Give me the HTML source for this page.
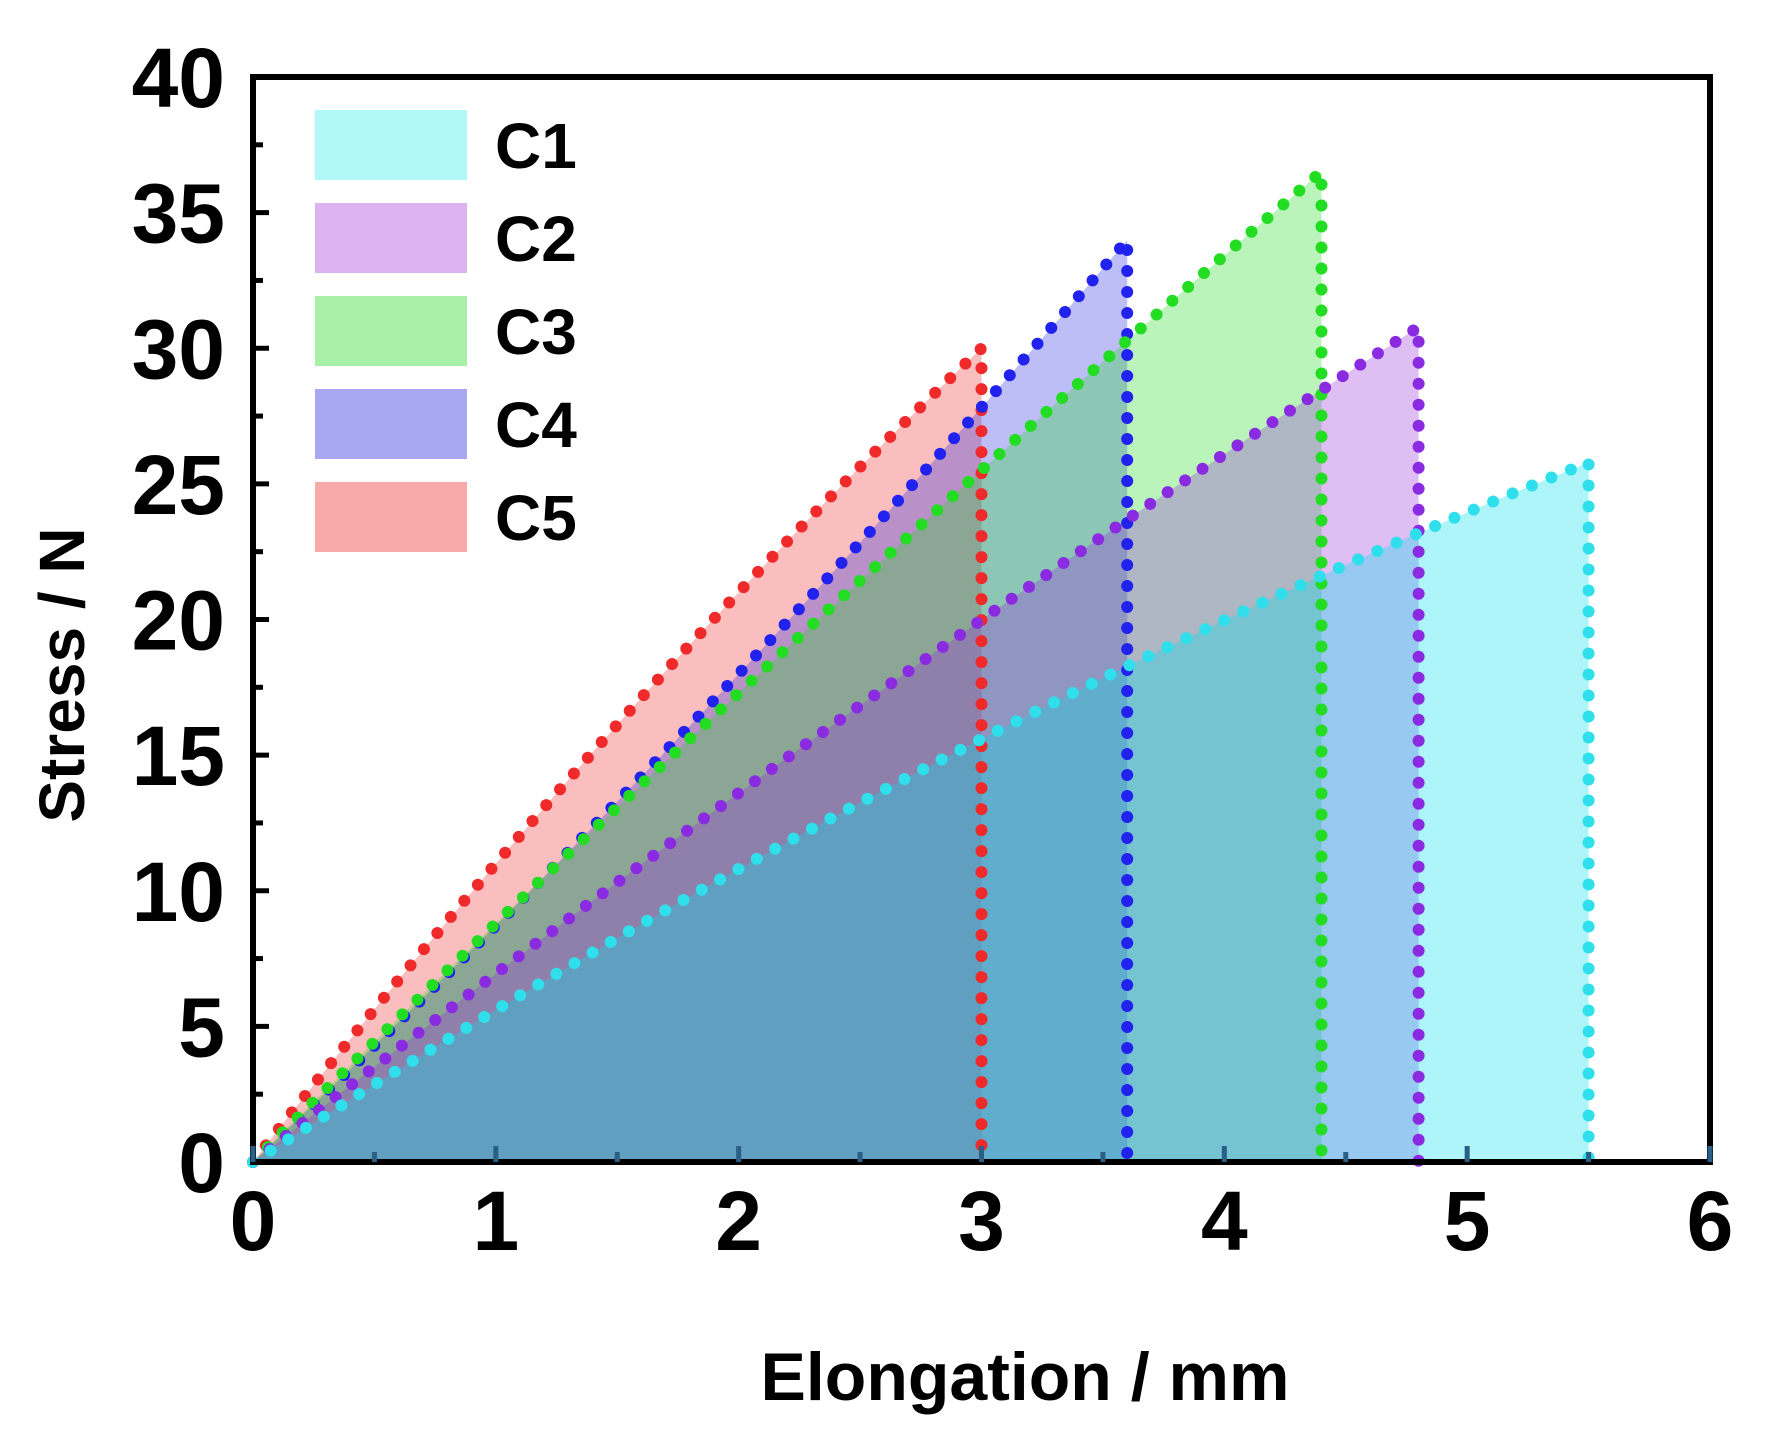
<!DOCTYPE html>
<html><head><meta charset="utf-8"><style>
html,body{margin:0;padding:0;background:#fff;width:1768px;height:1432px;overflow:hidden}
svg{display:block}
text{font-family:"Liberation Sans",Arial,sans-serif;font-weight:bold;fill:#000}
</style></head><body>
<svg id="s" width="1768" height="1432" viewBox="0 0 1768 1432" xmlns="http://www.w3.org/2000/svg">
<g id="fills"></g>
<g id="lines"></g>
<g id="axes"></g>
</svg>
<script>
const X0=253,X1=1710,Y0=1162,Y1=77;
const sx=x=>X0+(X1-X0)*x/6, sy=y=>Y0-(Y0-Y1)*y/40;
const NS="http://www.w3.org/2000/svg";
function el(p,t,a,txt){const e=document.createElementNS(NS,t);for(const k in a)e.setAttribute(k,a[k]);if(txt!==undefined)e.textContent=txt;document.getElementById(p).appendChild(e);return e;}
const series=[
 {a:5.81,b:-0.204,end:5.5,fill:"rgba(0,225,235,0.32)",line:"#2fe0ec"},
 {a:7.08,b:-0.139,end:4.8,fill:"rgba(150,40,220,0.30)",line:"#8a2be2"},
 {a:8.94,b:-0.146,end:4.4,fill:"rgba(30,220,30,0.30)",line:"#22dd22"},
 {a:8.44,b:0.278,end:3.6,fill:"rgba(40,40,230,0.30)",line:"#2222ee"},
 {a:11.5,b:-0.5,end:3.0,fill:"rgba(240,40,40,0.30)",line:"#f02a2a"}
];
series.forEach(s=>{
 let pts=[];for(let i=0;i<=60;i++){const x=s.end*i/60;pts.push(sx(x).toFixed(1)+","+sy(s.a*x+s.b*x*x).toFixed(1));}
 s.pts=pts;
});
[...series].reverse().forEach(s=>{
 el("fills","polygon",{points:s.pts.join(" ")+" "+sx(s.end)+","+Y0+" "+X0+","+Y0,fill:s.fill});
});
[...series].reverse().forEach(s=>{
 el("lines","polyline",{points:s.pts.join(" ")+" "+sx(s.end)+","+Y0,fill:"none",stroke:s.line,"stroke-width":12,"stroke-linecap":"round","stroke-dasharray":"0 21"});
});
el("axes","rect",{x:X0,y:Y1,width:X1-X0,height:Y0-Y1,fill:"none",stroke:"#000","stroke-width":6});
for(let i=0;i<=16;i++){const y=sy(i*2.5);const L=i%2==0?16:10;el("axes","line",{x1:X0,x2:X0+L,y1:y,y2:y,stroke:"#000","stroke-width":5});}
for(let i=0;i<=12;i++){const x=sx(i*0.5);const L=i%2==0?16:10;el("axes","line",{x1:x,x2:x,y1:Y0,y2:Y0-L,stroke:"#2a5f86","stroke-width":5});}
for(let i=0;i<=8;i++){el("axes","text",{x:225,y:sy(i*5)+30,"text-anchor":"end","font-size":84},String(i*5));}
for(let i=0;i<=6;i++){el("axes","text",{x:sx(i),y:1250,"text-anchor":"middle","font-size":84},String(i));}
el("axes","text",{x:1025,y:1400,"text-anchor":"middle","font-size":68},"Elongation / mm");
el("axes","text",{x:0,y:0,"text-anchor":"middle","font-size":64,transform:"translate(84,675) rotate(-90)"},"Stress / N");
const lc=["#b2f8f8","#dcb2f0","#a8f0a8","#a8a8f2","#f8aaaa"];
lc.forEach((c,i)=>{const y=110+i*93;el("axes","rect",{x:315,y:y,width:152,height:70,fill:c});el("axes","text",{x:495,y:y+58,"font-size":64},"C"+(i+1));});
</script>
</body></html>
